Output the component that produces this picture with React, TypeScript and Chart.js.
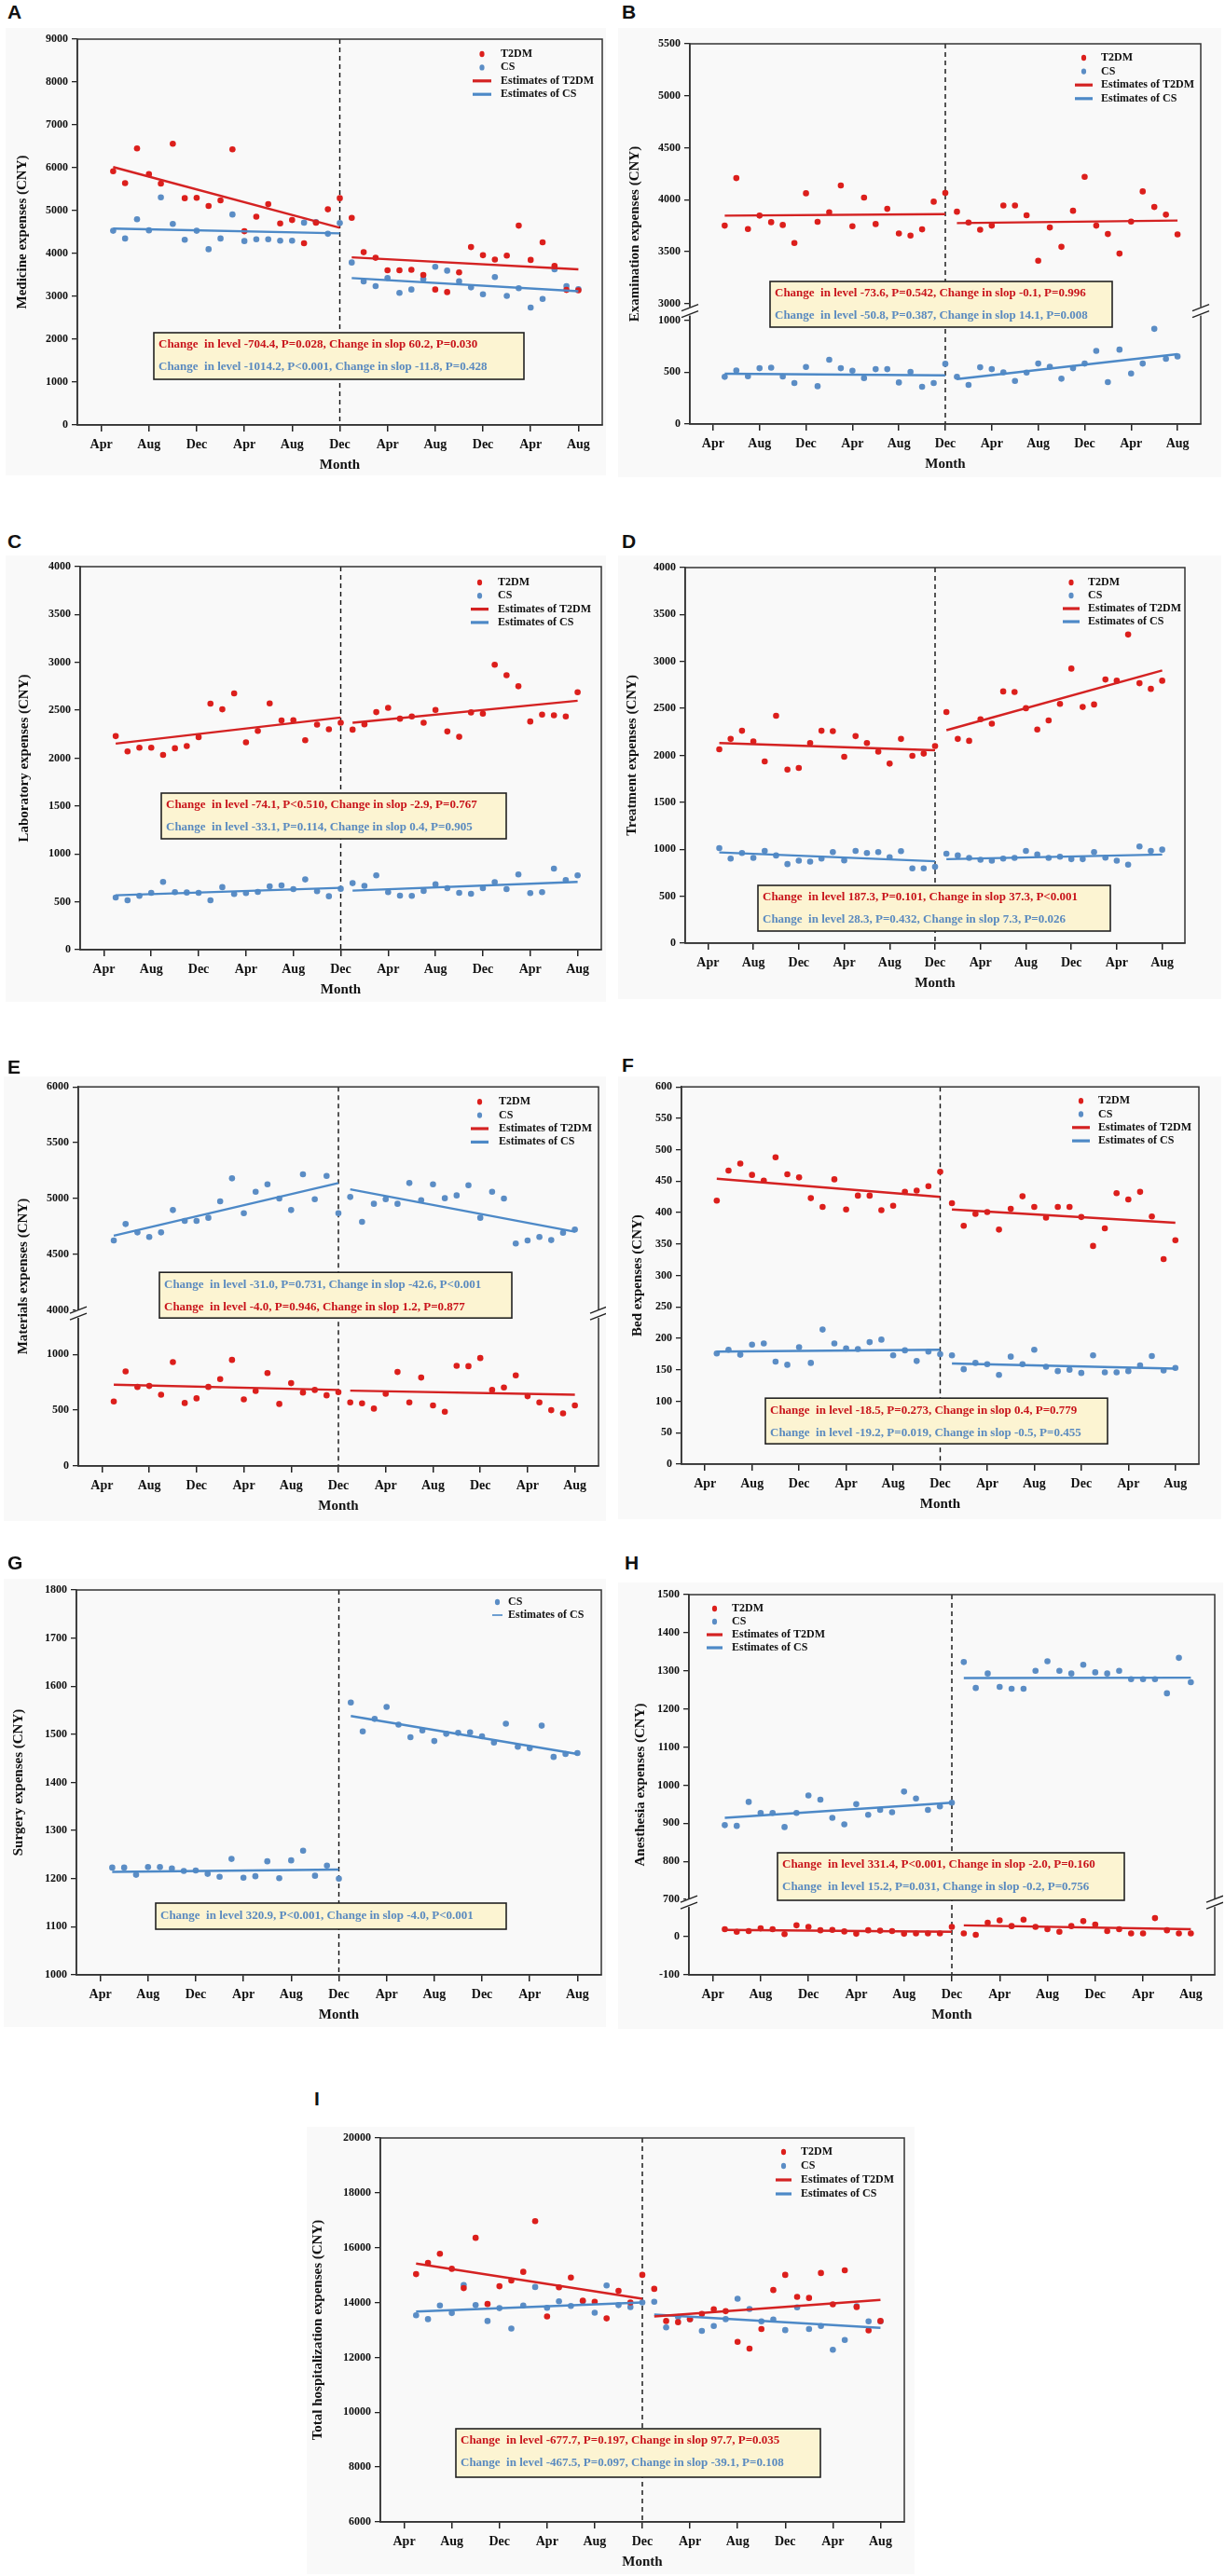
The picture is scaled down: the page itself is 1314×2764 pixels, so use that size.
import React, { useEffect, useRef } from "react";
import { Chart, registerables } from "chart.js";

Chart.register(...registerables);

const SERIF = '"Liberation Serif", "Times New Roman", Times, serif';
const SANS = '"Liberation Sans", Arial, Helvetica, sans-serif';
const RED = "#dc1f1c";
const BLUE = "#5b8dc5";
const RED_FIT = "#d42222";
const BLUE_FIT = "#4d89c7";
const NOTE_RED = "#c8141b";
const NOTE_BLUE = "#5a8abf";
const PANEL_BG = "#f9f9f9";
const NOTE_BG = "#fcf4d2";

// ---- shared time axis ----
const xTickValues = [0, 4, 8, 12, 16, 20, 24, 28, 32, 36, 40];
const xTickLabels = ["Apr", "Aug", "Dec", "Apr", "Aug", "Dec", "Apr", "Aug", "Dec", "Apr", "Aug"];
const xMin = -2;
const xMax = 42;
const interventionMonth = 20;
const monthIndex = [1, 2, 3, 4, 5, 6, 7, 8, 9, 10, 11, 12, 13, 14, 15, 16, 17, 18, 19, 20,
  21, 22, 23, 24, 25, 26, 27, 28, 29, 30, 31, 32, 33, 34, 35, 36, 37, 38, 39, 40];
const fitMonths = [1, 20, 21, 40]; // pre start, pre end, post start, post end

// ---- A: Medicine ----
const medicineT2dm = [5920, 5640, 6450, 5850, 5630, 6560, 5290, 5300, 5110, 5240, 6430, 4520, 4860, 5150, 4700, 4780, 4240, 4720, 5030, 5290,
  4830, 4030, 3900, 3610, 3610, 3620, 3500, 3160, 3100, 3560, 4150, 3960, 3860, 3950, 4650, 3850, 4260, 3710, 3150, 3140];
const medicineCs = [4530, 4350, 4800, 4540, 5310, 4690, 4320, 4530, 4100, 4350, 4910, 4290, 4330, 4330, 4300, 4300, 4720, 4730, 4460, 4710,
  3790, 3350, 3240, 3430, 3080, 3160, 3400, 3690, 3600, 3350, 3210, 3050, 3450, 3010, 3190, 2740, 2940, 3630, 3240, 3170];
const medicineT2dmFit = [6017, 4601, 3910, 3630];
const medicineCsFit = [4580, 4470, 3426, 3120];
const medicineTicks = [0, 1000, 2000, 3000, 4000, 5000, 6000, 7000, 8000, 9000];

// ---- B: Examination ----
const examT2dm = [3751, 4208, 3718, 3847, 3784, 3757, 3583, 4062, 3787, 3879, 4137, 3745, 4020, 3766, 3912, 3676, 3655, 3715, 3981, 4065,
  3885, 3781, 3712, 3751, 3945, 3945, 3850, 3413, 3733, 3547, 3894, 4220, 3751, 3670, 3482, 3790, 4080, 3930, 3856, 3667];
const examCs = [454, 516, 460, 537, 543, 457, 394, 549, 364, 618, 537, 513, 442, 528, 528, 400, 501, 358, 394, 579,
  454, 376, 546, 528, 498, 415, 496, 582, 552, 436, 537, 582, 704, 403, 716, 487, 582, 916, 627, 651];
const examT2dmFit = [3847, 3862, 3775, 3800];
const examCsFit = [484, 469, 433, 672];
const examUpperTicks = [3000, 3500, 4000, 4500, 5000, 5500];
const examLowerTicks = [0, 500, 1000];

// ---- C: Laboratory ----
const labT2dm = [2230, 2070, 2109, 2109, 2034, 2103, 2126, 2220, 2569, 2510, 2676, 2165, 2285, 2572, 2393, 2396, 2187, 2350, 2302, 2370,
  2298, 2354, 2481, 2526, 2412, 2435, 2370, 2504, 2279, 2223, 2478, 2465, 2976, 2866, 2751, 2383, 2455, 2448, 2435, 2689];
const labCs = [545, 516, 562, 594, 708, 601, 597, 594, 516, 653, 581, 591, 604, 662, 672, 633, 734, 610, 558, 636,
  695, 666, 776, 601, 565, 562, 614, 682, 643, 594, 584, 643, 705, 633, 786, 591, 601, 847, 727, 776];
const labT2dmFit = [2152, 2425, 2370, 2600];
const labCsFit = [568, 646, 617, 708];
const labTicks = [0, 500, 1000, 1500, 2000, 2500, 3000, 3500, 4000];

// ---- D: Treatment ----
const treatT2dm = [2065, 2175, 2262, 2148, 1935, 2422, 1849, 1866, 2132, 2262, 2258, 1985, 2205, 2132, 2039, 1912, 2175, 1995, 2019, 2099,
  2462, 2175, 2155, 2385, 2338, 2681, 2675, 2502, 2275, 2372, 2548, 2924, 2515, 2542, 2808, 2795, 3287, 2768, 2708, 2795];
const treatCs = [1013, 901, 960, 908, 983, 934, 842, 878, 868, 901, 970, 882, 983, 960, 970, 915, 980, 796, 796, 813,
  953, 934, 908, 888, 878, 901, 908, 983, 944, 908, 921, 895, 895, 970, 911, 878, 836, 1030, 983, 996];
const treatT2dmFit = [2132, 2055, 2268, 2905];
const treatCsFit = [967, 872, 895, 944];
const treatTicks = [0, 500, 1000, 1500, 2000, 2500, 3000, 3500, 4000];

// ---- E: Materials ----
const matCs = [4625, 4772, 4697, 4656, 4697, 4897, 4800, 4800, 4828, 4975, 5181, 4869, 5061, 5128, 5000, 4897, 5217, 4994, 5203, 4869,
  5014, 4792, 4953, 4994, 4953, 5139, 4986, 5128, 5003, 5028, 5119, 4828, 5061, 5000, 4597, 4625, 4656, 4628, 4694, 4722];
const matT2dm = [578, 847, 708, 717, 639, 931, 564, 606, 708, 778, 950, 597, 672, 833, 556, 742, 658, 681, 633, 661,
  569, 561, 514, 647, 842, 569, 792, 542, 486, 897, 894, 967, 681, 703, 811, 625, 569, 500, 472, 542];
const matCsFit = [4667, 5139, 5083, 4703];
const matT2dmFit = [728, 681, 675, 639];
const matUpperTicks = [4000, 4500, 5000, 5500, 6000];
const matLowerTicks = [0, 500, 1000];

// ---- F: Bed ----
const bedT2dm = [419, 467, 478, 460, 451, 488, 461, 456, 423, 409, 453, 405, 427, 427, 404, 411, 433, 435, 442, 465,
  415, 379, 398, 401, 373, 406, 426, 409, 392, 409, 409, 393, 347, 375, 431, 421, 433, 394, 326, 356];
const bedCs = [176, 182, 174, 190, 192, 163, 158, 186, 161, 214, 192, 184, 183, 194, 198, 173, 181, 164, 179, 175,
  173, 151, 161, 159, 142, 171, 159, 182, 155, 148, 150, 145, 173, 146, 146, 148, 157, 172, 149, 153];
const bedT2dmFit = [454, 425, 405, 384];
const bedCsFit = [179, 182, 160, 152];
const bedTicks = [0, 50, 100, 150, 200, 250, 300, 350, 400, 450, 500, 550, 600];

// ---- G: Surgery ----
const surgCs = [1223, 1223, 1208, 1224, 1224, 1221, 1216, 1217, 1210, 1204, 1241, 1202, 1205, 1236, 1201, 1238, 1258, 1206, 1227, 1200,
  1566, 1506, 1532, 1557, 1520, 1494, 1508, 1486, 1501, 1503, 1504, 1496, 1483, 1522, 1474, 1471, 1518, 1453, 1459, 1461];
const surgCsFit = [1214, 1219, 1538, 1459];
const surgTicks = [1000, 1100, 1200, 1300, 1400, 1500, 1600, 1700, 1800];

// ---- H: Anesthesia ----
const anesCs = [895, 893, 956, 927, 927, 890, 927, 973, 962, 914, 897, 950, 922, 935, 929, 983, 965, 935, 944, 954,
  1323, 1255, 1293, 1258, 1253, 1253, 1300, 1325, 1300, 1293, 1316, 1296, 1293, 1300, 1278, 1278, 1278, 1241, 1334, 1270];
const anesT2dm = [20, 13, 15, 22, 20, 7, 30, 26, 17, 18, 14, 8, 17, 16, 15, 8, 9, 9, 9, 26,
  9, 5, 37, 43, 28, 45, 26, 20, 13, 28, 41, 32, 15, 20, 9, 9, 49, 17, 9, 9];
const anesCsFit = [914, 954, 1281, 1282];
const anesT2dmFit = [18, 13, 30, 20];
const anesUpperTicks = [700, 800, 900, 1000, 1100, 1200, 1300, 1400, 1500];
const anesLowerTicks = [-100, 0];

// ---- I: Total ----
const totalT2dm = [15035, 15449, 15780, 15229, 14525, 16359, 13946, 14594, 14801, 15118, 16966, 13491, 14553, 14911, 14070, 14029, 13422, 14429, 14001, 15008,
  14498, 13326, 13284, 13395, 13588, 13753, 13684, 12567, 12319, 13036, 14456, 15008, 14208, 14167, 15077, 13932, 15174, 13836, 12981, 13326];
const totalCs = [13533, 13395, 13891, 13616, 14636, 13905, 13326, 13795, 13050, 13891, 14567, 13808, 14043, 13877, 14043, 13629, 14622, 13905, 13836, 14001,
  14029, 13091, 13477, 13395, 12967, 13146, 13395, 14139, 13767, 13312, 13381, 12995, 13822, 13036, 13146, 12277, 12636, 13864, 13312, 13312];
const totalT2dmFit = [15422, 14140, 13491, 14098];
const totalCsFit = [13670, 14001, 13560, 13077];
const totalTicks = [6000, 8000, 10000, 12000, 14000, 16000, 18000, 20000];

// ---- legends ----
const legend4 = [
  { kind: "dot", color: RED, text: "T2DM" },
  { kind: "dot", color: BLUE, text: "CS" },
  { kind: "line", color: RED_FIT, text: "Estimates of T2DM" },
  { kind: "line", color: BLUE_FIT, text: "Estimates of CS" },
];
const legendCsOnly = [
  { kind: "dot", color: BLUE, text: "CS" },
  { kind: "thin", color: BLUE_FIT, text: "Estimates of CS" },
];

const t2dm = (values: number[], fit: number[], axis = "y") => ({ values, fit, color: RED, fitColor: RED_FIT, axis });
const cs = (values: number[], fit: number[], axis = "y") => ({ values, fit, color: BLUE, fitColor: BLUE_FIT, axis });

const panels: any[] = [
  {
    letter: "A", letterPos: [8, 2], box: [6, 30, 650, 510], plot: [83, 42, 646, 456],
    yTitle: "Medicine expenses (CNY)", yTitleDx: -59,
    segs: [{ id: "y", min: 0, max: 9000, ticks: medicineTicks }],
    series: [t2dm(medicineT2dm, medicineT2dmFit), cs(medicineCs, medicineCsFit)],
    legend: { dx: 424, dy: 16, gap: 14.4, textDx: 30, lineW: 20, items: legend4 },
    note: { dx: 82, dy: 315, w: 397, h: 50, lines: [
      { text: "Change  in level -704.4, P=0.028, Change in slop 60.2, P=0.030", color: NOTE_RED },
      { text: "Change  in level -1014.2, P<0.001, Change in slop -11.8, P=0.428", color: NOTE_BLUE }] },
  },
  {
    letter: "B", letterPos: [667, 2], box: [663, 30, 1310, 512], plot: [740, 47, 1288, 455],
    yTitle: "Examination expenses (CNY)", yTitleDx: -59,
    segs: [{ id: "y", min: 2922, max: 5500, ticks: examUpperTicks }, { id: "y2", min: 0, max: 1080, ticks: examLowerTicks }],
    series: [t2dm(examT2dm, examT2dmFit, "y"), cs(examCs, examCsFit, "y2")],
    legend: { dx: 413, dy: 15, gap: 14.6, textDx: 28, lineW: 19, items: legend4 },
    note: { dx: 86, dy: 255, w: 367, h: 49, lines: [
      { text: "Change  in level -73.6, P=0.542, Change in slop -0.1, P=0.996", color: NOTE_RED },
      { text: "Change  in level -50.8, P=0.387, Change in slop 14.1, P=0.008", color: NOTE_BLUE }] },
  },
  {
    letter: "C", letterPos: [8, 570], box: [6, 596, 650, 1075], plot: [86, 608, 645, 1019],
    yTitle: "Laboratory expenses (CNY)", yTitleDx: -60,
    segs: [{ id: "y", min: 0, max: 4000, ticks: labTicks }],
    series: [t2dm(labT2dm, labT2dmFit), cs(labCs, labCsFit)],
    legend: { dx: 419, dy: 17, gap: 14.3, textDx: 29, lineW: 19, items: legend4 },
    note: { dx: 87, dy: 243, w: 370, h: 49, lines: [
      { text: "Change  in level -74.1, P<0.510, Change in slop -2.9, P=0.767", color: NOTE_RED },
      { text: "Change  in level -33.1, P=0.114, Change in slop 0.4, P=0.905", color: NOTE_BLUE }] },
  },
  {
    letter: "D", letterPos: [667, 570], box: [663, 596, 1310, 1072], plot: [735, 609, 1271, 1012],
    yTitle: "Treatment expenses (CNY)", yTitleDx: -57,
    segs: [{ id: "y", min: 0, max: 4000, ticks: treatTicks }],
    series: [t2dm(treatT2dm, treatT2dmFit), cs(treatCs, treatCsFit)],
    legend: { dx: 405, dy: 16, gap: 14, textDx: 27, lineW: 18, items: legend4 },
    note: { dx: 78, dy: 341, w: 378, h: 49, lines: [
      { text: "Change  in level 187.3, P=0.101, Change in slop 37.3, P<0.001", color: NOTE_RED },
      { text: "Change  in level 28.3, P=0.432, Change in slop 7.3, P=0.026", color: NOTE_BLUE }] },
  },
  {
    letter: "E", letterPos: [8, 1134], box: [4, 1155, 650, 1632], plot: [84, 1166, 642, 1573],
    yTitle: "Materials expenses (CNY)", yTitleDx: -59,
    segs: [{ id: "y", min: 3965, max: 6000, ticks: matUpperTicks }, { id: "y2", min: 0, max: 1360, ticks: matLowerTicks }],
    series: [t2dm(matT2dm, matT2dmFit, "y2"), cs(matCs, matCsFit, "y")],
    legend: { dx: 421, dy: 16, gap: 14.4, textDx: 30, lineW: 19, items: legend4 },
    note: { dx: 87, dy: 199, w: 378, h: 49, lines: [
      { text: "Change  in level -31.0, P=0.731, Change in slop -42.6, P<0.001", color: NOTE_BLUE },
      { text: "Change  in level -4.0, P=0.946, Change in slop 1.2, P=0.877", color: NOTE_RED }] },
  },
  {
    letter: "F", letterPos: [667, 1132], box: [663, 1155, 1310, 1630], plot: [731, 1165, 1286, 1571],
    yTitle: "Bed expenses (CNY)", yTitleDx: -47,
    segs: [{ id: "y", min: 0, max: 600, ticks: bedTicks }],
    series: [t2dm(bedT2dm, bedT2dmFit), cs(bedCs, bedCsFit)],
    legend: { dx: 419, dy: 15, gap: 14.3, textDx: 28, lineW: 19, items: legend4 },
    note: { dx: 90, dy: 334, w: 367, h: 49, lines: [
      { text: "Change  in level -18.5, P=0.273, Change in slop 0.4, P=0.779", color: NOTE_RED },
      { text: "Change  in level -19.2, P=0.019, Change in slop -0.5, P=0.455", color: NOTE_BLUE }] },
  },
  {
    letter: "G", letterPos: [8, 1666], box: [4, 1694, 650, 2175], plot: [82, 1706, 645, 2119],
    yTitle: "Surgery expenses (CNY)", yTitleDx: -62,
    segs: [{ id: "y", min: 1000, max: 1800, ticks: surgTicks }],
    series: [cs(surgCs, surgCsFit)],
    legend: { dx: 446, dy: 13, gap: 14, textDx: 17, lineW: 11, items: legendCsOnly },
    note: { dx: 85, dy: 336, w: 376, h: 28, lines: [
      { text: "Change  in level 320.9, P<0.001, Change in slop -4.0, P<0.001", color: NOTE_BLUE }] },
  },
  {
    letter: "H", letterPos: [670, 1666], box: [663, 1698, 1312, 2177], plot: [739, 1711, 1303, 2119],
    yTitle: "Anesthesia expenses (CNY)", yTitleDx: -52,
    segs: [{ id: "y", min: 690, max: 1500, ticks: anesUpperTicks }, { id: "y2", min: -100, max: 88, ticks: anesLowerTicks }],
    series: [t2dm(anesT2dm, anesT2dmFit, "y2"), cs(anesCs, anesCsFit, "y")],
    legend: { dx: 19, dy: 15, gap: 14, textDx: 27, lineW: 17, items: legend4 },
    note: { dx: 95, dy: 277, w: 372, h: 51, lines: [
      { text: "Change  in level 331.4, P<0.001, Change in slop -2.0, P=0.160", color: NOTE_RED },
      { text: "Change  in level 15.2, P=0.031, Change in slop -0.2, P=0.756", color: NOTE_BLUE }] },
  },
  {
    letter: "I", letterPos: [337, 2241], box: [329, 2282, 981, 2762], plot: [408, 2294, 970, 2706],
    yTitle: "Total hospitalization expenses (CNY)", yTitleDx: -67,
    segs: [{ id: "y", min: 6000, max: 20000, ticks: totalTicks }],
    series: [t2dm(totalT2dm, totalT2dmFit), cs(totalCs, totalCsFit)],
    legend: { dx: 424, dy: 15, gap: 15, textDx: 27, lineW: 17, items: legend4 },
    note: { dx: 81, dy: 312, w: 391, h: 52, lines: [
      { text: "Change  in level -677.7, P=0.197, Change in slop 97.7, P=0.035", color: NOTE_RED },
      { text: "Change  in level -467.5, P=0.097, Change in slop -39.1, P=0.108", color: NOTE_BLUE }] },
  },
];

function drawBreak(ctx: CanvasRenderingContext2D, x: number, y: number) {
  ctx.save();
  ctx.fillStyle = PANEL_BG;
  ctx.fillRect(x - 3, y - 5, 6, 9);
  ctx.strokeStyle = "#222";
  ctx.lineWidth = 1.4;
  ctx.beginPath();
  ctx.moveTo(x - 9, y - 1);
  ctx.lineTo(x + 9, y - 8);
  ctx.moveTo(x - 9, y + 6);
  ctx.lineTo(x + 9, y - 1);
  ctx.stroke();
  ctx.restore();
}

function decorPlugin(p: any) {
  return {
    id: "decor" + p.letter,
    beforeDatasetsDraw(chart: any) {
      const { ctx, chartArea: ca, scales } = chart;
      const x = scales.x.getPixelForValue(interventionMonth);
      ctx.save();
      ctx.strokeStyle = "#111";
      ctx.lineWidth = 1.4;
      ctx.setLineDash([5, 4]);
      ctx.beginPath();
      ctx.moveTo(x, ca.top);
      ctx.lineTo(x, ca.bottom);
      ctx.stroke();
      ctx.restore();
    },
    afterDraw(chart: any) {
      const { ctx, chartArea: ca, scales } = chart;
      ctx.save();
      // frame
      ctx.strokeStyle = "#333";
      ctx.lineWidth = 1.5;
      ctx.strokeRect(ca.left, ca.top, ca.right - ca.left, ca.bottom - ca.top);
      // axis breaks
      if (p.segs.length > 1) {
        const yb = scales[p.segs[1].id].top;
        drawBreak(ctx, ca.left, yb);
        drawBreak(ctx, ca.right, yb);
      }
      // legend
      const L = p.legend;
      ctx.font = `bold 12px ${SERIF}`;
      ctx.textBaseline = "middle";
      ctx.textAlign = "left";
      L.items.forEach((it: any, i: number) => {
        const y = ca.top + L.dy + i * L.gap;
        const x0 = ca.left + L.dx;
        if (it.kind === "dot") {
          ctx.fillStyle = it.color;
          ctx.beginPath();
          ctx.ellipse(x0 + L.lineW / 2, y, 2.6, 3.2, 0, 0, Math.PI * 2);
          ctx.fill();
        } else if (it.kind === "thin") {
          ctx.fillStyle = it.color;
          ctx.fillRect(x0, y - 0.8, L.lineW, 1.6);
        } else {
          ctx.fillStyle = it.color;
          ctx.fillRect(x0, y - 1.6, L.lineW, 3.2);
        }
        ctx.fillStyle = "#111";
        ctx.fillText(it.text, x0 + L.textDx, y);
      });
      // note box
      const N = p.note;
      const bx = ca.left + N.dx;
      const by = ca.top + N.dy;
      ctx.fillStyle = NOTE_BG;
      ctx.fillRect(bx, by, N.w, N.h);
      ctx.strokeStyle = "#222";
      ctx.lineWidth = 1.6;
      ctx.strokeRect(bx, by, N.w, N.h);
      ctx.font = `bold 13px ${SERIF}`;
      const n = N.lines.length;
      N.lines.forEach((ln: any, i: number) => {
        ctx.fillStyle = ln.color;
        const y = n === 1 ? by + N.h / 2 : by + 13 + i * 24;
        ctx.fillText(ln.text, bx + 5, y, N.w - 10);
      });
      // y title
      ctx.fillStyle = "#111";
      ctx.font = `bold 15px ${SERIF}`;
      ctx.textAlign = "center";
      ctx.translate(ca.left + p.yTitleDx, (ca.top + ca.bottom) / 2);
      ctx.rotate(-Math.PI / 2);
      ctx.fillText(p.yTitle, 0, 0);
      ctx.restore();
      // x title
      ctx.save();
      ctx.fillStyle = "#111";
      ctx.font = `bold 15px ${SERIF}`;
      ctx.textAlign = "center";
      ctx.textBaseline = "middle";
      ctx.fillText("Month", (ca.left + ca.right) / 2, ca.bottom + 43);
      ctx.restore();
    },
  };
}

function makeChart(canvas: HTMLCanvasElement, p: any) {
  const [bx, by, bx2, by2] = p.box;
  const [pl, pt, pr, pb] = p.plot;
  const yAxisW = pl - bx;
  const xAxisH = by2 - pb;
  const tickFontY = { family: SERIF, size: 12, weight: "bold" };
  const scales: any = {
    x: {
      type: "linear",
      min: xMin,
      max: xMax,
      afterBuildTicks: (ax: any) => {
        ax.ticks = xTickValues.map((v) => ({ value: v }));
      },
      afterFit: (ax: any) => {
        ax.height = xAxisH;
      },
      ticks: {
        autoSkip: false,
        maxRotation: 0,
        minRotation: 0,
        padding: 6,
        color: "#111",
        font: { family: SERIF, size: 14, weight: "bold" },
        callback: (_v: any, i: number) => xTickLabels[i],
      },
      grid: { drawOnChartArea: false, drawTicks: true, tickLength: 7, color: "#222", lineWidth: 1.5 },
      border: { display: true, color: "#333", width: 1.5 },
    },
  };
  p.segs.forEach((s: any, i: number) => {
    const stacked = p.segs.length > 1 ? { stack: "ystack", stackWeight: s.max - s.min, weight: p.segs.length - i } : {};
    scales[s.id] = {
      type: "linear",
      position: "left",
      min: s.min,
      max: s.max,
      ...stacked,
      afterBuildTicks: (ax: any) => {
        ax.ticks = s.ticks.map((v: number) => ({ value: v }));
      },
      afterFit: (ax: any) => {
        ax.width = yAxisW;
      },
      ticks: {
        autoSkip: false,
        padding: 4,
        color: "#111",
        font: tickFontY,
        callback: (v: any) => String(v),
      },
      grid: { drawOnChartArea: false, drawTicks: true, tickLength: 6, color: "#222", lineWidth: 1.3 },
      border: { display: true, color: "#333", width: 1.5 },
    };
  });

  const datasets: any[] = [];
  p.series.forEach((s: any) => {
    datasets.push({
      data: s.values.map((v: number, i: number) => ({ x: monthIndex[i], y: v })),
      yAxisID: s.axis,
      showLine: false,
      pointRadius: 3.3,
      pointBackgroundColor: s.color,
      pointBorderWidth: 0,
      order: 2,
    });
    datasets.push({
      data: [{ x: fitMonths[0], y: s.fit[0] }, { x: fitMonths[1], y: s.fit[1] }],
      yAxisID: s.axis,
      showLine: true,
      borderColor: s.fitColor,
      borderWidth: 2.4,
      pointRadius: 0,
      order: 1,
    });
    datasets.push({
      data: [{ x: fitMonths[2], y: s.fit[2] }, { x: fitMonths[3], y: s.fit[3] }],
      yAxisID: s.axis,
      showLine: true,
      borderColor: s.fitColor,
      borderWidth: 2.4,
      pointRadius: 0,
      order: 1,
    });
  });

  return new Chart(canvas, {
    type: "scatter",
    data: { datasets },
    options: {
      animation: false,
      responsive: false,
      maintainAspectRatio: false,
      events: [],
      layout: { padding: { left: 0, top: pt - by, right: bx2 - pr, bottom: 0 } },
      plugins: { legend: { display: false }, tooltip: { enabled: false } },
      scales,
    } as any,
    plugins: [decorPlugin(p)],
  });
}

function PanelView({ p }: { p: any }) {
  const ref = useRef<HTMLCanvasElement>(null);
  useEffect(() => {
    if (!ref.current) return;
    const chart = makeChart(ref.current, p);
    return () => chart.destroy();
  }, [p]);
  const [bx, by, bx2, by2] = p.box;
  const w = bx2 - bx;
  const h = by2 - by;
  return (
    <>
      <div style={{ position: "absolute", left: bx, top: by, width: w, height: h, background: PANEL_BG }} />
      <canvas ref={ref} width={w} height={h} style={{ position: "absolute", left: bx, top: by, width: w, height: h }} />
      <div
        style={{
          position: "absolute",
          left: p.letterPos[0],
          top: p.letterPos[1],
          fontFamily: SANS,
          fontWeight: "bold",
          fontSize: 21,
          lineHeight: "21px",
          color: "#111",
        }}
      >
        {p.letter}
      </div>
    </>
  );
}

export default function App() {
  return (
    <div style={{ position: "absolute", left: 0, top: 0, width: 1314, height: 2764, background: "#ffffff", overflow: "hidden" }}>
      {panels.map((p) => (
        <PanelView key={p.letter} p={p} />
      ))}
    </div>
  );
}
